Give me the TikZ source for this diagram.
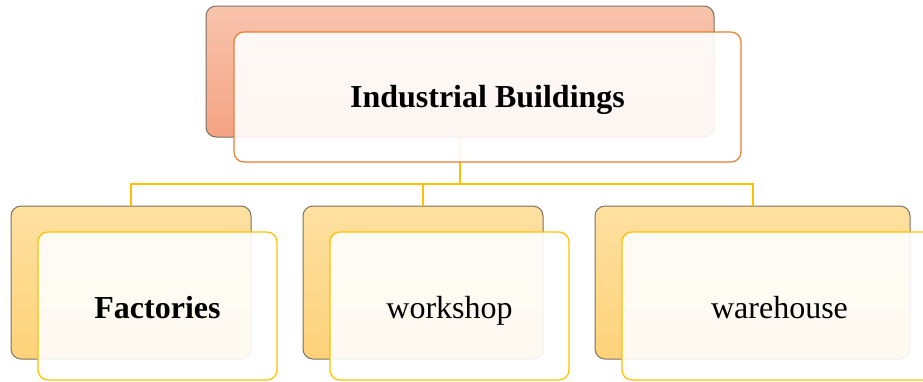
\documentclass[tikz,border=0pt]{standalone}
\usepackage{fontspec}
\setmainfont{Liberation Serif}
\definecolor{pTop}{HTML}{F8C4AD}
\definecolor{pBot}{HTML}{F4A383}
\definecolor{cTop}{HTML}{FEE0A0}
\definecolor{cBot}{HTML}{FED27A}
\definecolor{backEdge}{HTML}{7A7060}
\definecolor{orangeEdge}{HTML}{ED7D31}
\definecolor{goldEdge}{HTML}{FFC000}
\tikzset{
  backbox/.style={draw=backEdge, line width=1pt, rounded corners=10pt, inner sep=0pt},
  parentback/.style={backbox, top color=pTop, bottom color=pBot, minimum width=508pt, minimum height=131pt},
  childback/.style={backbox, top color=cTop, bottom color=cBot, minimum height=153pt},
  frontbox/.style={rounded corners=10pt, fill=white, fill opacity=0.9, text opacity=1, line width=1.2pt, inner sep=0pt, font=\fontsize{32}{38}\selectfont},
  parentfront/.style={frontbox, draw=orangeEdge, minimum width=507pt, minimum height=130pt, text height=26pt, text depth=6pt},
  childfront/.style={frontbox, draw=goldEdge, minimum height=148pt, text height=30pt, text depth=6pt},
  conn/.style={draw=goldEdge, line width=2pt}
}
\begin{document}
\begin{tikzpicture}[x=1pt,y=-1pt]
\useasboundingbox (0,0) rectangle (923,381);
\coordinate (j) at (460,184);
% back boxes
\node[parentback] (pb) at (460,71.5) {};
\node[childback, minimum width=240pt] (c1b) at (131,282.5) {};
\node[childback, minimum width=240pt] (c2b) at (423,282.5) {};
\node[childback, minimum width=315pt] (c3b) at (752.5,282.5) {};
% connectors
\draw[conn] (pb.south) -- (j);
\draw[conn] (j) -| (c1b.north);
\draw[conn] (j) -| (c2b.north);
\draw[conn] (j) -| (c3b.north);
% front boxes
\node[parentfront] (pf) at (487.5,97) {\textbf{Industrial Buildings}};
\node[childfront, minimum width=239pt] (c1f) at (157.5,306) {\textbf{Factories}};
\node[childfront, minimum width=239pt] (c2f) at (449.5,306) {workshop};
\node[childfront, minimum width=315pt] (c3f) at (779.5,306) {warehouse};
\end{tikzpicture}
\end{document}
